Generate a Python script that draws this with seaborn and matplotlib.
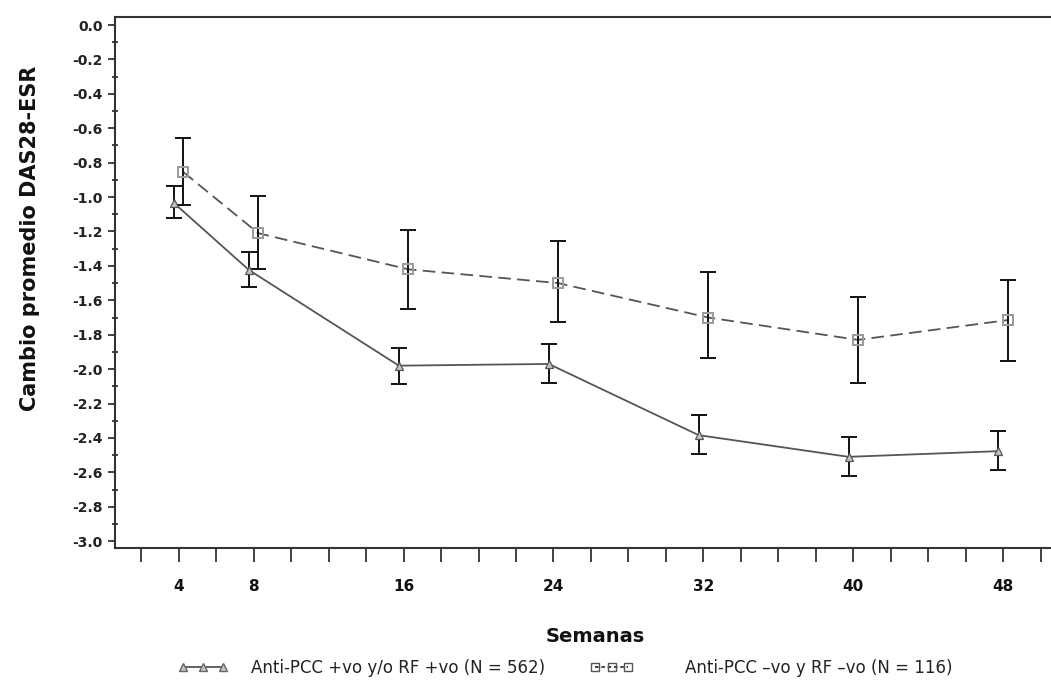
import matplotlib
matplotlib.use("Agg")
import matplotlib.pyplot as plt
from matplotlib.lines import Line2D
import numpy as np
import pandas as pd
import seaborn as sns

# ---- data ----
weeks = [4, 8, 16, 24, 32, 40, 48]
pos_mean = [-1.035, -1.424, -1.98, -1.97, -2.384, -2.51, -2.477]
pos_upper = [-0.936, -1.32, -1.878, -1.855, -2.267, -2.395, -2.36]
pos_lower = [-1.122, -1.523, -2.087, -2.08, -2.494, -2.622, -2.587]
neg_mean = [-0.855, -1.21, -1.42, -1.50, -1.70, -1.83, -1.715]
neg_upper = [-0.657, -0.994, -1.19, -1.256, -1.436, -1.58, -1.48]
neg_lower = [-1.047, -1.418, -1.65, -1.727, -1.936, -2.08, -1.953]
series_names = ["Anti-PCC +vo y/o RF +vo (N = 562)", "Anti-PCC \u2013vo y RF \u2013vo (N = 116)"]
xtick_labels = ["4", "8", "16", "24", "32", "40", "48"]
ytick_vals = [0.0, -0.2, -0.4, -0.6, -0.8, -1.0, -1.2, -1.4, -1.6, -1.8, -2.0, -2.2, -2.4, -2.6, -2.8, -3.0]

sns.set_style("ticks")
plt.rcParams["font.family"] = ["DejaVu Sans"]

fig = plt.figure(figsize=(10.51, 6.87), dpi=100)
ax = fig.add_axes([115 / 1051, 1 - 548 / 687, 935 / 1051, (548 - 17) / 687])

offsets = [-0.25, 0.25]
df = pd.DataFrame({
    "week": [w + offsets[0] for w in weeks] + [w + offsets[1] for w in weeks],
    "value": pos_mean + neg_mean,
    "group": [series_names[0]] * len(weeks) + [series_names[1]] * len(weeks),
})

sns.lineplot(data=df, x="week", y="value", hue="group", style="group",
             palette=["#555555", "#555555"], dashes=[(None, None), (7, 3.5)],
             markers=False, linewidth=1.3, ax=ax, legend=False)

# error bars
for means, up, lo, off in [(pos_mean, pos_upper, pos_lower, offsets[0]),
                           (neg_mean, neg_upper, neg_lower, offsets[1])]:
    m = np.array(means)
    ax.errorbar([w + off for w in weeks], m,
                yerr=[m - np.array(lo), np.array(up) - m],
                fmt="none", ecolor="#111111", elinewidth=1.4, capsize=6, capthick=1.4, zorder=3)

# markers
ax.plot([w + offsets[0] for w in weeks], pos_mean, linestyle="none", marker="^",
        markersize=6, markerfacecolor="#c4c4c4", markeredgecolor="#555555", markeredgewidth=0.9, zorder=4)
ax.plot([w + offsets[1] for w in weeks], neg_mean, linestyle="none", marker="s",
        markersize=7.5, markerfacecolor="none", markeredgecolor="#9a9a9a", markeredgewidth=1.4, zorder=4)

ax.set_xlim(0.6, 50.5)
ax.set_ylim(-3.04, 0.047)

ax.set_xticks(weeks)
ax.set_xticklabels(xtick_labels, fontsize=11, fontweight="bold", color="#111111")
ax.set_xticks(np.arange(2, 51, 2), minor=True)
ax.tick_params(axis="x", which="both", length=10, width=1.3, direction="out", color="#333333")
ax.tick_params(axis="x", which="major", pad=12)

ax.set_yticks(ytick_vals)
ax.set_yticklabels([f"{v:.1f}" for v in ytick_vals], fontsize=10, fontweight="bold", color="#222222")
ax.set_yticks(np.arange(-2.9, 0.0, 0.2), minor=True)
ax.tick_params(axis="y", which="major", length=5, width=1.3, direction="out", color="#333333", pad=4)
ax.tick_params(axis="y", which="minor", length=5, width=1.3, direction="inout", color="#333333")

for s in ["left", "bottom", "top"]:
    ax.spines[s].set_visible(True)
    ax.spines[s].set_linewidth(1.5)
    ax.spines[s].set_color("#333333")
ax.spines["right"].set_visible(False)

ax.set_xlabel("")
ax.set_ylabel("")
fig.text(30 / 1051, 1 - 238 / 687, "Cambio promedio DAS28-ESR", rotation=90,
         ha="center", va="center", fontsize=15, fontweight="bold", color="#111111")
fig.text(595 / 1051, 1 - 636 / 687, "Semanas", ha="center", va="center",
         fontsize=14, fontweight="bold", color="#111111")

h1 = Line2D([0], [0], color="#555555", linewidth=1.3, marker="^", markersize=5.5,
            markerfacecolor="#c4c4c4", markeredgecolor="#666666")
h2 = Line2D([0], [0], color="#333333", linewidth=1.3, linestyle=(0, (2, 1.5)), marker="s", markersize=6,
            markerfacecolor="none", markeredgecolor="#555555")
fig.legend([h1], [series_names[0]], loc="center left", bbox_to_anchor=(163 / 1051, 1 - 668 / 687),
           frameon=False, numpoints=3, handlelength=3.0, handletextpad=1.4,
           prop={"size": 12}, labelcolor="#222222")
fig.legend([h2], [series_names[1]], loc="center left", bbox_to_anchor=(575 / 1051, 1 - 668 / 687),
           frameon=False, numpoints=3, handlelength=2.6, handletextpad=3.1,
           prop={"size": 12}, labelcolor="#222222")

fig.savefig("out.png", dpi=100)
